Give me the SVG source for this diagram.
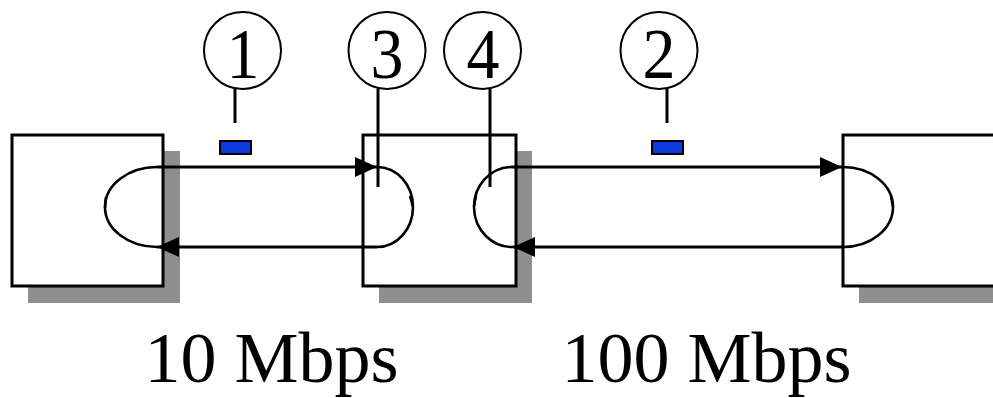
<svg xmlns="http://www.w3.org/2000/svg" width="993" height="398" viewBox="0 0 993 398">
<style>
.box{fill:#fff;stroke:#000;stroke-width:3}
.shadow{fill:#8e8e8e}
.ln{fill:none;stroke:#000;stroke-width:3}
.arc{fill:none;stroke:#000;stroke-width:2.6}
.circ{fill:#fff;stroke:#000;stroke-width:2}
.lead{stroke:#000;stroke-width:3}
.pkt{fill:#0a3be0;stroke:#000;stroke-width:2}
.num{font-family:"Liberation Serif","Times New Roman",serif;font-size:66px;fill:#000;text-anchor:middle}
.lbl{font-family:"Liberation Serif","Times New Roman",serif;font-size:72px;fill:#000;text-anchor:middle}
</style>
<defs>
<marker id="ah" markerWidth="22" markerHeight="20" refX="22" refY="10" orient="auto" markerUnits="userSpaceOnUse">
<path d="M0,0 L22,10 L0,20 Z" fill="#000"/>
</marker>
</defs>
<g id="station-a">
<rect class="shadow" x="28" y="151" width="152" height="152"/>
<rect class="box" x="12" y="135" width="151" height="151"/>
</g>
<g id="switch">
<rect class="shadow" x="379" y="151" width="153" height="152"/>
<rect class="box" x="363" y="135" width="153" height="151"/>
</g>
<g id="station-b">
<rect class="shadow" x="859" y="151" width="150" height="152"/>
<rect class="box" x="843" y="135" width="160" height="151"/>
</g>
<g id="connectors">
<path class="ln" d="M157,167 H377" marker-end="url(#ah)"/>
<path class="ln" d="M377,247 H157" marker-end="url(#ah)"/>
<path class="ln" d="M511,167 H842" marker-end="url(#ah)"/>
<path class="ln" d="M843,247 H513" marker-end="url(#ah)"/>
<path class="arc" d="M157,167 A52,40 0 0 0 157,247"/>
<path class="arc" d="M105,208 L106,197"/>
<path class="arc" d="M377,167 A36,40 0 0 1 377,247"/>
<path class="arc" d="M413,207 L410,196"/>
<path class="arc" d="M511,167 A38,40 0 0 0 513,247"/>
<path class="arc" d="M474,206 L476,196"/>
<path class="arc" d="M843,167 A50,40 0 0 1 843,247"/>
<path class="arc" d="M893,207 L891,196"/>
<line class="lead" x1="235" y1="89" x2="235" y2="123"/>
<line class="lead" x1="378" y1="89" x2="378" y2="187"/>
<line class="lead" x1="490" y1="89" x2="490" y2="187"/>
<line class="lead" x1="667" y1="89" x2="667" y2="123"/>
</g>
<g id="packet-1"><rect class="pkt" x="220" y="141" width="31" height="13"/></g>
<g id="packet-2"><rect class="pkt" x="652" y="141" width="31" height="13"/></g>
<g id="callout-1"><circle class="circ" cx="242.5" cy="50.5" r="38.5"/><text class="num" transform="translate(243,78) scale(1,1.1)">1</text></g>
<g id="callout-3"><circle class="circ" cx="387" cy="50.5" r="38.5"/><text class="num" transform="translate(387,78) scale(1,1.1)">3</text></g>
<g id="callout-4"><circle class="circ" cx="482.5" cy="50.5" r="38.5"/><text class="num" transform="translate(483,78) scale(1,1.1)">4</text></g>
<g id="callout-2"><circle class="circ" cx="659" cy="50.5" r="38.5"/><text class="num" transform="translate(659,78) scale(1,1.1)">2</text></g>
<g id="label-10"><text class="lbl" x="271.5" y="382">10 Mbps</text></g>
<g id="label-100"><text class="lbl" x="706.5" y="382">100 Mbps</text></g>
</svg>
